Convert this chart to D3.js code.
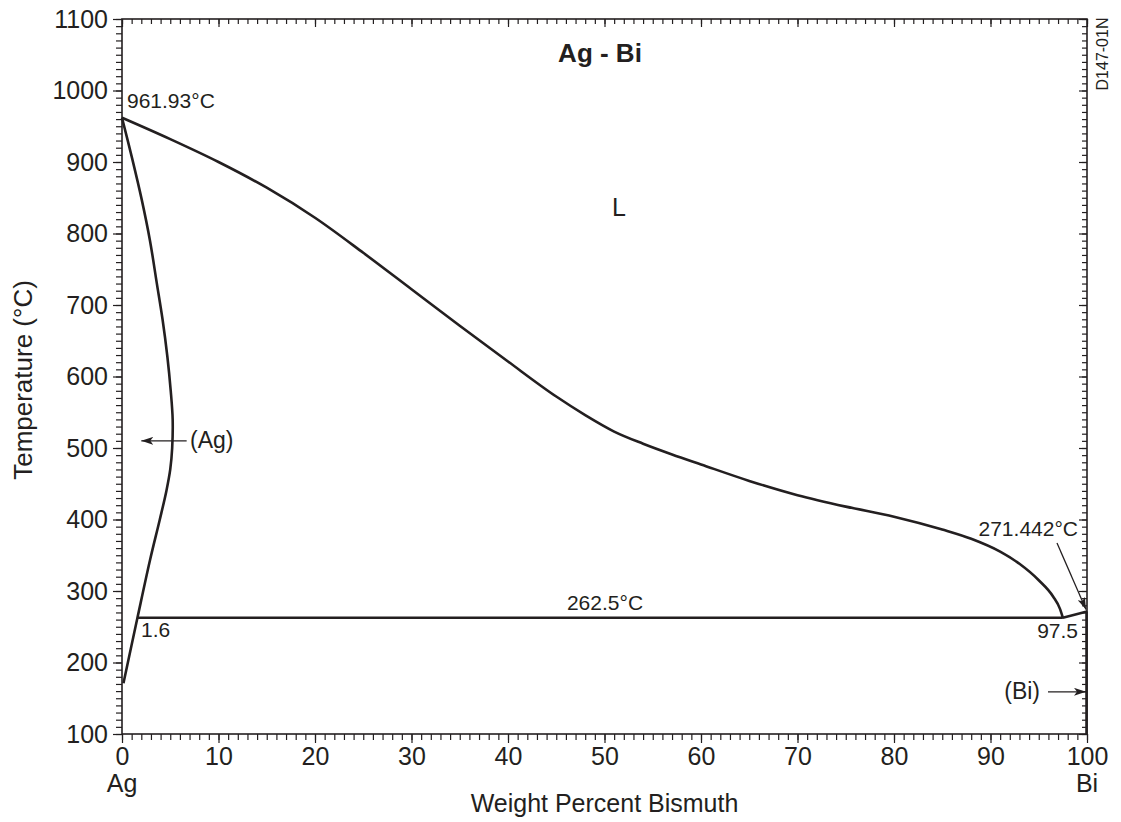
<!DOCTYPE html>
<html>
<head>
<meta charset="utf-8">
<script src="https://cdnjs.cloudflare.com/ajax/libs/d3/7.8.5/d3.min.js"></script>
<style>
body { margin: 0; background: #fff; }
text { font-family: "Liberation Sans", Arial, Helvetica, sans-serif; fill: #231f20; }
</style>
</head>
<body>
<div id="svg"></div>
<script>

// phase boundaries as [wt% Bi, temperature in °C]
var liquidus = [[0, 961.93], [5, 932], [10, 900], [15, 864], [20, 822], [25, 773], [30, 722],
    [35, 671], [40, 621], [45, 572], [48, 546], [51, 523], [54, 506], [57, 491], [60, 477],
    [65, 454], [70, 434], [75, 418], [80, 404], [85, 386], [88, 373], [91, 355], [93, 338],
    [95, 315], [96.5, 292], [97.2, 275], [97.5, 262.5]];
var agSolvus = [[0, 961.93], [1.05, 905], [2.05, 847], [2.9, 790], [3.6, 731], [4.2, 680],
    [4.7, 628], [5.05, 580], [5.25, 540], [5.2, 500], [5.0, 470], [4.6, 440], [3.9, 399],
    [2.9, 343], [1.6, 262.5], [0.15, 171]];
var biLiquidus = [[97.5, 262.5], [100, 271.442]];
var biSolvus = [[99.95, 271.442], [99.95, 100]];
var eutectic = [[1.6, 262.5], [97.5, 262.5]];

var xMajor = d3.range(0, 101, 10);
var xMinor = d3.range(0, 101, 1);
var yMajor = d3.range(100, 1101, 100);
var yMinor = d3.range(100, 1101, 10);

var w = 1121, h = 822;
var pLeft = 122, pRight = 1087, pTop = 19, pBottom = 734;
var ink = "#231f20";

var svg = d3.select("#svg")
    .append("svg")
    .attr("width", w)
    .attr("height", h);

var x = d3.scaleLinear().domain([0, 100]).range([pLeft, pRight]);
var y = d3.scaleLinear().domain([100, 1100]).range([pBottom, pTop]);

svg.append("defs").append("marker")
    .attr("id", "arrow")
    .attr("viewBox", "0 0 12 8")
    .attr("refX", 12).attr("refY", 4)
    .attr("markerWidth", 12).attr("markerHeight", 8)
    .attr("markerUnits", "userSpaceOnUse")
    .attr("orient", "auto")
    .append("path")
    .attr("d", "M0,0 L12,4 L0,8 L3,4 Z")
    .attr("fill", ink);

// axes: minor ticks, then major ticks with labels
function styleAxis(g) {
    g.select(".domain").remove();
    g.selectAll("line").attr("stroke", ink).attr("stroke-width", 1.2);
}

svg.append("g").attr("transform", "translate(0," + pBottom + ")")
    .call(d3.axisBottom(x).tickValues(xMinor).tickSize(6).tickFormat(""))
    .call(styleAxis);
svg.append("g").attr("transform", "translate(0," + pBottom + ")")
    .call(d3.axisBottom(x).tickValues(xMajor).tickSize(9).tickPadding(4).tickFormat(d3.format("d")))
    .call(styleAxis)
    .selectAll("text").attr("font-size", 25).attr("fill", ink);

svg.append("g").attr("transform", "translate(0," + pTop + ")")
    .call(d3.axisBottom(x).tickValues(xMinor).tickSize(5).tickFormat(""))
    .call(styleAxis);
svg.append("g").attr("transform", "translate(0," + pTop + ")")
    .call(d3.axisBottom(x).tickValues(xMajor).tickSize(8).tickFormat(""))
    .call(styleAxis);

svg.append("g").attr("transform", "translate(" + pLeft + ",0)")
    .call(d3.axisLeft(y).tickValues(yMinor).tickSize(6).tickFormat(""))
    .call(styleAxis);
svg.append("g").attr("transform", "translate(" + pLeft + ",0)")
    .call(d3.axisLeft(y).tickValues(yMajor).tickSize(9).tickPadding(5).tickFormat(d3.format("d")))
    .call(styleAxis)
    .selectAll("text").attr("font-size", 25).attr("fill", ink);

svg.append("g").attr("transform", "translate(" + pRight + ",0)")
    .call(d3.axisLeft(y).tickValues(yMinor).tickSize(5).tickFormat(""))
    .call(styleAxis);
svg.append("g").attr("transform", "translate(" + pRight + ",0)")
    .call(d3.axisLeft(y).tickValues(yMajor).tickSize(8).tickFormat(""))
    .call(styleAxis);

svg.append("rect")
    .attr("x", pLeft).attr("y", pTop)
    .attr("width", pRight - pLeft).attr("height", pBottom - pTop)
    .attr("fill", "none").attr("stroke", ink).attr("stroke-width", 1.6);

// phase boundary lines
var line = d3.line().x(d => x(d[0])).y(d => y(d[1]));
var monoX = d3.line().x(d => x(d[0])).y(d => y(d[1])).curve(d3.curveMonotoneX);
var smooth = d3.line().x(d => x(d[0])).y(d => y(d[1])).curve(d3.curveCatmullRom.alpha(0.5));

[[liquidus, monoX], [agSolvus, smooth], [biLiquidus, line], [eutectic, line], [biSolvus, line]]
    .forEach(function(p) {
        svg.append("path")
            .attr("d", p[1](p[0]))
            .attr("fill", "none")
            .attr("stroke", ink)
            .attr("stroke-width", 2.6)
            .attr("stroke-linejoin", "round");
    });

// labels
function label(txt, px, py, size, anchor, weight) {
    return svg.append("text")
        .attr("x", px).attr("y", py)
        .attr("font-size", size)
        .attr("text-anchor", anchor || "start")
        .attr("font-weight", weight || "normal")
        .text(txt);
}

label("Ag - Bi", 600, 62, 26, "middle", "bold");
label("L", 612, 216, 25, "start");
label("961.93°C", 127, 108, 21, "start");
label("(Ag)", 190, 448, 23, "start");
label("1.6", 141, 637, 21, "start");
label("262.5°C", 605, 610, 21, "middle");
label("97.5", 1078, 638, 21, "end");
label("271.442°C", 1078, 536, 21, "end");
label("(Bi)", 1040, 699, 23, "end");
label("Ag", x(0), 792, 25, "middle");
label("Bi", x(100), 792, 25, "middle");
label("Weight Percent Bismuth", x(50), 812, 25, "middle");

svg.append("text")
    .attr("transform", "translate(32,380) rotate(-90)")
    .attr("font-size", 26)
    .attr("text-anchor", "middle")
    .text("Temperature (°C)");

svg.append("text")
    .attr("transform", "translate(1108,54) rotate(-90)")
    .attr("font-size", 16)
    .attr("text-anchor", "middle")
    .text("D147-01N");

// arrows
function arrow(x1, y1, x2, y2) {
    svg.append("line")
        .attr("x1", x1).attr("y1", y1).attr("x2", x2).attr("y2", y2)
        .attr("stroke", ink).attr("stroke-width", 1.3)
        .attr("marker-end", "url(#arrow)");
}
arrow(x(6.7), y(510), x(2), y(510));
arrow(1048, y(159), x(100) - 1, y(159));
arrow(1057, 543, x(100) - 1, y(271.442) - 2);

</script>
</body>
</html>
